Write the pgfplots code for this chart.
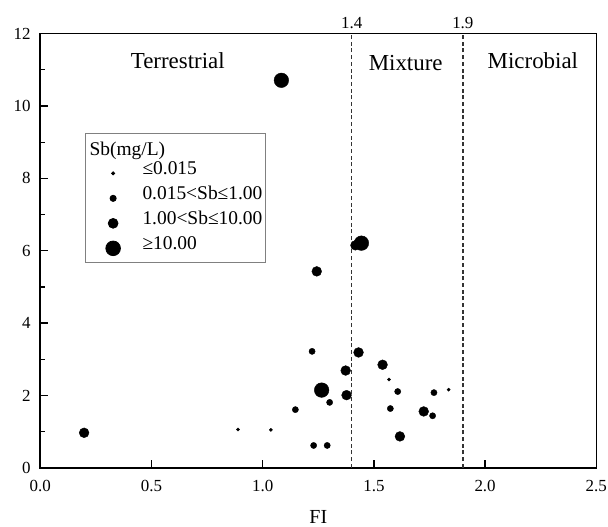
\documentclass[border=0pt]{standalone}
\usepackage{fontspec}
\setmainfont{Liberation Serif}
\usepackage{pgfplots}
\pgfplotsset{compat=1.18}

% legend image: one mark, 24bp into a 49bp wide cell
\pgfplotsset{
  onemark/.style={only marks, mark=*, black,
    legend image code/.code={\path (0bp,0bp) (49bp,0bp);
      \draw[##1] plot coordinates {(24bp,0bp)};}},
}

\begin{document}
\begin{tikzpicture}
\begin{axis}[
    name=ax,
    scale only axis,
    width=556bp, height=434.3bp,
    xmin=0, xmax=2.5, ymin=0, ymax=12,
    xtick={0,0.5,...,2.5},
    ytick={0,2,...,12},
    minor y tick num=1,
    /pgf/number format/assume math mode=true,
    tick label style={font=\fontsize{17}{20}\selectfont},
    xticklabel style={anchor=base, yshift=-24bp,
      /pgf/number format/fixed, /pgf/number format/fixed zerofill,
      /pgf/number format/precision=1},
    yticklabel style={inner sep=0pt, anchor=east, xshift=-9.6bp},
    tick align=inside,
    xtick pos=bottom, ytick pos=left,
    major tick length=8bp, minor tick length=4.5bp,
    every tick/.style={black, line width=1.3bp},
    axis line style={line width=1.6bp},
    xlabel={FI},
    xlabel style={font=\fontsize{20}{24}\selectfont, at={(axis description cs:0.5,0)}, anchor=base, yshift=-55.5bp},
    clip=false,
    legend cell align=left,
    legend style={at={(0.081,0.770)}, anchor=north west,
      draw=gray, line width=0.8bp,
      font=\fontsize{19.5}{22}\selectfont,
      inner xsep=3bp, inner ysep=4bp,
      /tikz/column sep=4bp, /tikz/row sep=4.1bp,
      nodes={inner sep=0pt, text height=11.4bp, text depth=9.5bp}},
]
% boundaries of the source regions
\addplot[forget plot, dashed, dash pattern=on 4bp off 2.7bp, line width=1.4bp, black!80] coordinates {(1.4,0) (1.4,12)};
\addplot[forget plot, dashed, dash pattern=on 4bp off 2.7bp, line width=1.4bp, black!80] coordinates {(1.9,0) (1.9,12)};

\addlegendimage{empty legend}
\addlegendentry{\hspace*{-52.9bp}\raisebox{-6.5bp}{Sb(mg/L)}}

% <=0.015
\addplot[onemark, mark size=1.6bp] coordinates {
  (0.889,1.06) (1.037,1.05) (1.568,2.44) (1.836,2.16)
};
\addlegendentry{≤0.015}

% 0.015 < Sb <= 1.00
\addplot[onemark, mark size=3.1bp] coordinates {
  (1.222,3.22) (1.147,1.61) (1.301,1.81) (1.607,2.11) (1.770,2.08)
  (1.574,1.64) (1.764,1.44) (1.229,0.62) (1.290,0.62)
};
\addlegendentry{0.015<Sb≤1.00}

% 1.00 < Sb <= 10.00
\addplot[onemark, mark size=4.9bp] coordinates {
  (0.197,0.97) (1.243,5.43) (1.431,3.19) (1.539,2.85) (1.373,2.69)
  (1.377,2.01) (1.724,1.56) (1.617,0.87) (1.417,6.15)
};
\addlegendentry{1.00<Sb≤10.00}

% >=10.00
\addplot[onemark, mark size=7.3bp] coordinates {
  (1.084,10.71) (1.265,2.15) (1.444,6.21)
};
\addlegendentry{≥10.00}

\node[font=\fontsize{23}{26}\selectfont, anchor=base] at (axis cs:0.618,11.03) {Terrestrial};
\node[font=\fontsize{23}{26}\selectfont, anchor=base] at (axis cs:1.643,10.98) {Mixture};
\node[font=\fontsize{23}{26}\selectfont, anchor=base] at (axis cs:2.215,11.04) {Microbial};
\node[font=\fontsize{17}{20}\selectfont, anchor=base] at ([yshift=4.6bp]axis cs:1.4,12) {1.4};
\node[font=\fontsize{17}{20}\selectfont, anchor=base] at ([yshift=4.6bp]axis cs:1.9,12) {1.9};
\end{axis}
\pgfresetboundingbox
\path[use as bounding box] ([xshift=-40.3bp,yshift=-59.1bp]ax.south west) rectangle ([xshift=11.7bp,yshift=33.6bp]ax.north east);
\end{tikzpicture}
\end{document}
